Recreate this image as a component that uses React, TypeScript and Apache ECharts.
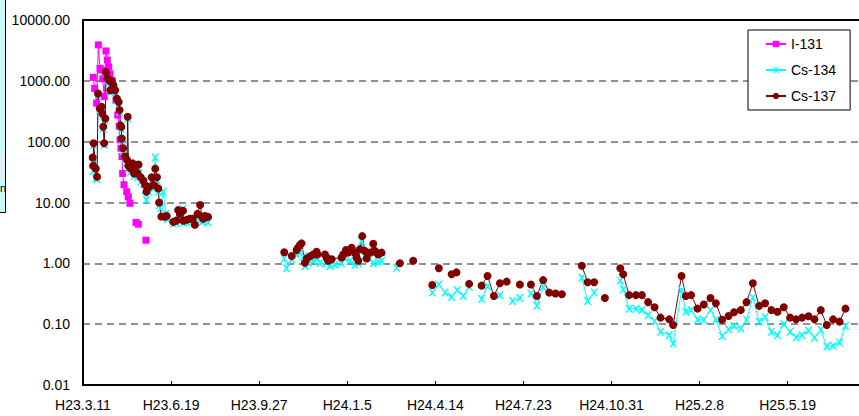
import React, { useEffect, useRef } from "react";
import * as echarts from "echarts";

// Day offsets are counted from H23.3.11 (2011-03-11); ticks every 100 days.
const tickLabels = [
  "H23.3.11", "H23.6.19", "H23.9.27", "H24.1.5", "H24.4.14",
  "H24.7.23", "H24.10.31", "H25.2.8", "H25.5.19",
];
const seriesNames = ["I-131", "Cs-134", "Cs-137"];

type Pt = [number, number | null];

const i131Points: Pt[] = [
  [11.7, 1140], [13.3, 750], [15.5, 430], [17.4, 3900], [19.3, 1600], [21.2, 1500],
  [22.4, 1080], [24.2, 550], [26.1, 3100], [27.6, 2200], [29.2, 1700], [30.6, 1300],
  [33.3, 1000], [35.5, 700], [37.5, 480], [39.4, 275], [41.2, 180], [42, 107],
  [43.1, 78], [44.3, 57], [45, 30], [46.5, 19.6], [49.6, 15], [51.4, 12.4], [53.3, 9.7],
  [57, null], [60.2, 4.7], [62.8, 4.4], [67, null], [71.5, 2.4],
];

const cs134Early: Pt[] = [
  [11, 45], [11.5, 33], [12, 88], [14.5, 25], [16, 24], [17, 580], [19, 330], [21, 350],
  [22, 270], [23, 165], [24, 88], [25.3, 225], [26, 1300], [27.5, 1000], [30, 950],
  [31, 650], [32.5, 950], [34.5, 800], [36.5, 650], [38.5, 480], [40.5, 420], [41.5, 310],
  [42.5, 175], [43.5, 160], [44, 105], [45.5, 70], [48, 52], [50, 45], [50.7, 240],
  [51.5, 36], [54, 32], [56.5, 40], [58, 27], [60, 36], [62, 26], [63, 38], [65.5, 22],
  [68.5, 20], [70.5, 16], [72, 11], [75, 15], [78, 22], [80, 17], [82, 55], [84, 23],
  [85.5, 15], [86.5, 9], [88, 8], [91, 15], [94, 6.5], [96, 5.3], [102.5, 4.5],
  [106, 4.6], [108, 6.5], [110, 6], [113.5, 7.8], [114, 4.7], [118, 4.7], [121.5, 5],
  [124.5, 4.9], [127, 4.6], [130, 5.8], [133, 5.2], [135, 4.8], [136.5, 5], [138.5, 5.3],
  [142, 4.7],
];
const cs134Mid: Pt[] = [
  [228.5, 1.2], [231, 0.83], [237, 1.17], [242.5, 1.4], [246.3, 1.5], [250, 1.3],
  [252, 0.9], [255.7, 1.0], [261.4, 1.1], [266, 1.2], [269, 1.0], [276.6, 1.0],
  [280.4, 0.9], [286, 0.95], [293.6, 1.0], [297.4, 1.2], [303, 1.1], [308.7, 0.95],
  [312.5, 1.0], [316.3, 2.3], [320, 1.3], [325.7, 1.2], [329.5, 1.0], [335.2, 1.05],
  [339, 1.1], [348, null], [356, 0.85],
];
const cs134Late: Pt[] = [
  [396.5, 0.33], [404, 0.45], [411, 0.33], [418.5, 0.28], [424.8, 0.36], [431.6, 0.29],
  [438.4, 0.41], [445, null], [452.5, 0.26], [459.3, 0.42], [466, null], [473.3, 0.3],
  [480, null], [487.7, 0.24], [496, 0.27], [502, null], [508.5, 0.32], [515.3, 0.2],
  [522.4, 0.41], [545, null], [566.4, 0.58], [572.9, 0.24], [580.3, 0.33], [595, null],
  [610, 0.52], [613.3, 0.37], [620, 0.18], [627.7, 0.18], [634.5, 0.17], [641.6, 0.14],
  [648.9, 0.112], [655.7, 0.075], [665.5, 0.066], [670, 0.048], [679.5, 0.36],
  [684.4, 0.16], [690.4, 0.17], [697.7, 0.118], [704.8, 0.118], [712.4, 0.17],
  [718.5, 0.118], [725.6, 0.064], [732.9, 0.082], [739.2, 0.093], [746.8, 0.085],
  [753.3, 0.118], [760.5, 0.275], [767.6, 0.11], [774.4, 0.13], [781.6, 0.075],
  [788.5, 0.066], [795.6, 0.1], [802.8, 0.075], [809.6, 0.061], [816.4, 0.066],
  [823.7, 0.078], [830.5, 0.06], [837.6, 0.08], [844.4, 0.043], [851.6, 0.044],
  [858.9, 0.05], [865.7, 0.093],
];

const cs137Early: Pt[] = [
  [11, 55], [11.5, 40], [12, 94], [14.5, 36], [16, 26.5], [17, 620], [19, 350], [21, 375],
  [22, 290], [23, 176], [24, 94], [25.3, 240], [26, 1400], [27.5, 1100], [30, 1000],
  [31, 700], [32.5, 1000], [34.5, 850], [36.5, 700], [38.5, 510], [40.5, 450], [41.5, 330],
  [42.5, 185], [43.5, 175], [44, 113], [45.5, 78], [48, 57], [50, 50], [50.7, 257],
  [51.5, 40], [54, 36], [56.5, 44], [58, 30], [60, 40], [62, 30], [63, 42], [65.5, 26],
  [68.5, 23], [70.5, 19.5], [72, 15], [75, 18], [78, 26], [80, 19.5], [82, 36], [84, 26],
  [85.5, 17], [86.5, 10], [89, 5.9], [93, 5.8], [95, 6], [102.5, 4.8], [106, 5],
  [108, 7.5], [110, 6.5], [113.5, 7.3], [114, 5], [118, 5.2], [121.5, 5.4], [124.5, 5.4],
  [127, 4.3], [130, 6.5], [133, 9.1], [135, 5.9], [136.5, 5.4], [138.5, 6], [142, 5.8],
];
const cs137Mid: Pt[] = [
  [228.5, 1.52], [237, 1.32], [242.5, 1.66], [244.4, 1.83], [246.3, 2.0], [248.2, 2.13],
  [252, 1.02], [254, 1.2], [257.6, 1.3], [261.4, 1.4], [265.2, 1.55], [266, 1.4],
  [274.7, 1.4], [276.6, 1.25], [278.4, 1.1], [282.3, 1.17], [293.6, 1.25], [295.4, 1.4],
  [298.5, 1.66], [301.1, 1.5], [305, 1.8], [308.7, 1.5], [310.6, 1.25], [312.5, 1.1],
  [314.4, 1.7], [317, 2.8], [320, 1.6], [322, 1.2], [325.7, 1.5], [329.5, 2.1],
  [331.4, 1.6], [333.3, 1.5], [335.2, 1.4], [339, 1.5], [350, null], [359.8, 1.0],
  [367, null], [374.9, 1.1],
];
const cs137Late: Pt[] = [
  [396.5, 0.44], [400, null], [404, 0.83], [411, null], [418.5, 0.66], [424, 0.71],
  [431, null], [438.4, 0.46], [445, null], [452.5, 0.43], [459.3, 0.62], [466.5, 0.29],
  [473.3, 0.47], [481, 0.5], [488, null], [496, 0.45], [502, null], [508.5, 0.45],
  [515.3, 0.29], [522.4, 0.53], [529.3, 0.33], [536.5, 0.32], [543.7, 0.31], [555, null],
  [566.4, 0.91], [572.9, 0.49], [580.3, 0.49], [586, null], [592.5, 0.27], [600, null],
  [610, 0.83], [613.3, 0.66], [620, 0.3], [627.7, 0.3], [634.5, 0.3], [641.6, 0.23],
  [648.9, 0.19], [655.7, 0.128], [665.5, 0.12], [670, 0.097], [679.5, 0.62],
  [684.4, 0.29], [690.4, 0.3], [697.7, 0.18], [704.8, 0.21], [712.4, 0.27], [718.5, 0.22],
  [725.6, 0.118], [732.9, 0.136], [739.2, 0.157], [746.8, 0.17], [753.3, 0.23],
  [760.5, 0.47], [767.6, 0.2], [774.4, 0.22], [781.6, 0.17], [788.5, 0.16], [795.6, 0.19],
  [802.8, 0.128], [809.6, 0.12], [816.4, 0.128], [823.7, 0.135], [830.5, 0.12],
  [837.6, 0.17], [844.4, 0.097], [851.6, 0.12], [858.9, 0.11], [865.7, 0.18],
];

const FONT = "'Liberation Sans Narrow', 'Arial Narrow', 'Liberation Sans', Arial, sans-serif";
const X_MARK = "path://M0,0L2,0L5,3.2L8,0L10,0L6.2,5L10,10L8,10L5,6.8L2,10L0,10L3.8,5Z";

function toSeriesData(groups: Pt[][]) {
  const out: (number | string)[][] = [];
  groups.forEach((g, gi) => {
    if (gi > 0 && out.length) {
      const prev = out[out.length - 1][0] as number;
      out.push([(prev + g[0][0]) / 2, "-"]);
    }
    g.forEach(([d, v]) => out.push([d, v == null ? "-" : v]));
  });
  return out;
}

export default function App() {
  const ref = useRef<HTMLDivElement>(null);
  useEffect(() => {
    if (!ref.current) return;
    const chart = echarts.init(ref.current, undefined, { renderer: "svg" });
    const xMax = 881;
    chart.setOption({
      animation: false,
      backgroundColor: "#fff",
      grid: { left: 83, top: 20, right: 0, bottom: 31, show: false },
      xAxis: [
        {
          type: "value", min: 0, max: xMax, interval: 100,
          axisLine: { show: true, onZero: false, lineStyle: { color: "#000", width: 2 } },
          axisTick: { show: true, inside: true, length: 4, lineStyle: { color: "#000", width: 1 } },
          axisLabel: {
            formatter: (v: number) => tickLabels[Math.round(v / 100)] ?? "",
            color: "#000", fontSize: 14, fontFamily: FONT, margin: 13,
            showMaxLabel: false,
          },
          splitLine: { show: false },
        },
        {
          type: "value", position: "top", min: 0, max: xMax,
          axisLine: { show: true, onZero: false, lineStyle: { color: "#000", width: 2 } },
          axisTick: { show: false }, axisLabel: { show: false }, splitLine: { show: false },
        },
      ],
      yAxis: {
        type: "log", logBase: 10, min: 0.01, max: 10000,
        axisLine: { show: true, lineStyle: { color: "#000", width: 2 } },
        axisTick: { show: false },
        axisLabel: {
          formatter: (v: number) => Number(v).toFixed(2),
          color: "#000", fontSize: 14, fontFamily: FONT, margin: 13,
        },
        splitLine: { show: true, lineStyle: { color: "#6e6e6e", width: 1.5, type: [7, 5] } },
      },
      legend: {
        data: seriesNames,
        orient: "vertical", left: 748, top: 30,
        itemWidth: 20, itemHeight: 8, itemGap: 12,
        padding: [7, 14, 7, 17],
        backgroundColor: "#fff", borderColor: "#000", borderWidth: 1, borderRadius: 0,
        textStyle: { fontSize: 14, color: "#000", fontFamily: FONT },
        selectedMode: false,
      },
      graphic: [
        {
          type: "rect", shape: { x: -2, y: -2, width: 7.5, height: 214.5 },
          style: { fill: "#c8fafa", stroke: "#000", lineWidth: 1 }, silent: true,
        },
        {
          type: "rect", shape: { x: -2, y: 152, width: 4.5, height: 28 },
          style: { fill: "#e4ecec" }, silent: true,
        },
        {
          type: "text", x: 0, y: 188,
          style: { text: "n", fontSize: 11, fontFamily: FONT, fill: "#000", textVerticalAlign: "middle" },
          silent: true,
        },
      ],
      series: [
        {
          name: "I-131", type: "line", data: toSeriesData([i131Points]),
          symbol: "rect", symbolSize: 7, connectNulls: false,
          itemStyle: { color: "#ff00ff" }, lineStyle: { color: "#ff00ff", width: 1 },
          emphasis: { disabled: true },
        },
        {
          name: "Cs-134", type: "line", data: toSeriesData([cs134Early, cs134Mid, cs134Late]),
          symbol: X_MARK, symbolSize: 8, connectNulls: false,
          itemStyle: { color: "#00ffff" }, lineStyle: { color: "#00ffff", width: 1 },
          emphasis: { disabled: true },
        },
        {
          name: "Cs-137", type: "line", data: toSeriesData([cs137Early, cs137Mid, cs137Late]),
          symbol: "circle", symbolSize: 8, connectNulls: false,
          itemStyle: { color: "#800000" }, lineStyle: { color: "#800000", width: 1 },
          emphasis: { disabled: true },
        },
      ],
    });
    return () => chart.dispose();
  }, []);
  return (
    <div
      ref={ref}
      style={{ position: "fixed", left: 0, top: 0, width: 859, height: 416, overflow: "hidden" }}
    />
  );
}
